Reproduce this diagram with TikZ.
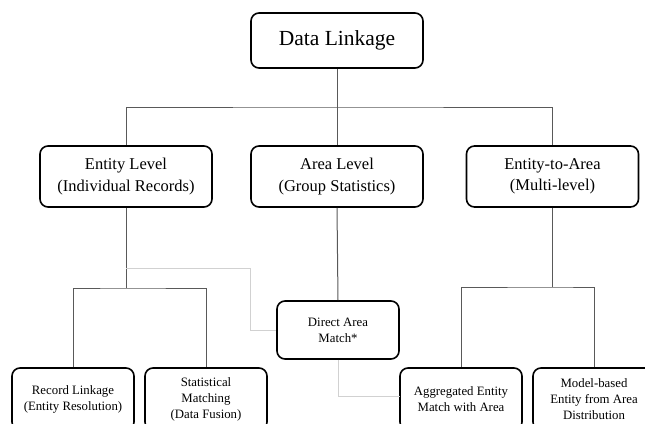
\documentclass[tikz,border=0pt]{standalone}
\usepackage{fontspec}
\setmainfont{Liberation Serif}
\tikzset{
  box/.style={draw=black, line width=1.6pt, rounded corners=8pt, fill=white, align=center, inner sep=0pt},
  rootbox/.style={box, minimum width=172, minimum height=55, font=\fontsize{21.5}{26}\selectfont},
  levelbox/.style={box, minimum width=172, minimum height=61, font=\fontsize{16.5}{21.5}\selectfont},
  leafbox/.style={box, minimum width=122, minimum height=58, font=\fontsize{12.8}{16}\selectfont},
  conn/.style={draw=black!65, line width=1pt},
  link/.style={draw=black!18, line width=1pt}
}
\begin{document}
\begin{tikzpicture}[x=1pt,y=-1pt]
            \useasboundingbox (0,0) rectangle (645,423);
            \clip (0,0) rectangle (645,423);

            \node[rootbox] (top) at (337,40.5) {Data Linkage};
            \node[levelbox] (entity) at (126,176.5) {Entity Level\\(Individual Records)};
            \node[levelbox] (area) at (337,176.5) {Area Level\\(Group Statistics)};
            \node[levelbox] (etoa) at (552.5,176.5) {Entity-to-Area\\(Multi-level)};
            \node[leafbox] (direct) at (338,330) {Direct Area\\Match*};
            \node[leafbox, minimum height=62] (rl) at (73,399) {Record Linkage\\(Entity Resolution)};
            \node[leafbox, minimum height=62] (sm) at (206,399) {Statistical\\Matching\\(Data Fusion)};
            \node[leafbox, minimum height=62] (agg) at (461,399) {Aggregated Entity\\Match with Area};
            \node[leafbox, minimum height=62] (mb) at (594,399) {Model-based\\Entity from Area\\Distribution};

            \coordinate (bus) at (337,107);
            \coordinate (ebus) at (126,288);
            \coordinate (abus) at (552.5,287);
            \coordinate (g1) at (126,268);
            \coordinate (g2) at (400,396);

            \draw[conn] (top.south) -- (area.north);
            \draw[conn] (entity.north) |- (bus) -| (etoa.north);
            \draw[conn] (entity.south) -- (ebus);
            \draw[conn] (rl.north) |- (ebus) -| (sm.north);
            \draw[conn] (etoa.south) -- (abus);
            \draw[conn] (agg.north) |- (abus) -| (mb.north);
            \draw[conn] (area.south) -- (direct.north);

            \draw[link] (g1) -- ++(124,0) |- (direct.west);
            \draw[link] (direct.south) |- (g2);
        \end{tikzpicture}
\end{document}
